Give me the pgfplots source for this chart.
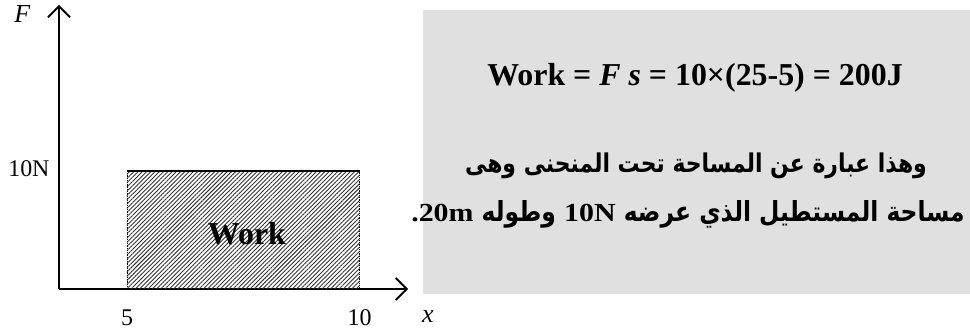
\documentclass[border=0pt]{standalone}
\usepackage{graphicx}
\usepackage{pgfplots}
\pgfplotsset{compat=1.18}
\usepackage{fontspec}
\setmainfont{Liberation Serif}
\newfontfamily\arabicfont[Script=Arabic]{DejaVu Sans}
\TeXXeTstate=1
\usetikzlibrary{arrows.meta,patterns.meta}
\definecolor{boxgray}{RGB}{224,224,224}
\newcommand\ar[1]{\scalebox{1}[1.18]{\beginR #1\endR}}
\newcommand\la[1]{\scalebox{1}[0.87]{\rmfamily\fontsize{30}{34}\selectfont #1}}
\begin{document}
\begin{tikzpicture}
\useasboundingbox (0bp,0bp) rectangle (970bp,331bp);
\fill[boxgray] (423bp,37bp) rectangle (970bp,321bp);
\begin{axis}[
 at={(59bp,42bp)}, anchor=south west,
 scale only axis, width=349bp, height=284bp,
 xmin=3.538, xmax=11.043, ymin=0, ymax=24.07,
 axis lines=left,
 axis line style={line width=1.8bp, -{Straight Barb[length=11bp,width=22bp]}},
 xtick={5,10}, ytick={10}, yticklabels={10N},
 major tick length=0pt,
 tick label style={font=\fontsize{24}{28}\selectfont},
 /pgf/number format/assume math mode=true,
 xticklabel style={yshift=-17bp},
 yticklabel style={xshift=-6bp, yshift=2bp},
 clip=false,
]
\addplot[draw=none, pattern={Lines[angle=45,distance=3bp,line width=0.9bp]}, pattern color=black!80]
  coordinates {(5,0) (5,10) (10,10) (10,0)} \closedcycle;
\addplot[densely dotted, line width=0.8bp] coordinates {(5,10) (5,0) (10,0) (10,10)};
\addplot[line width=1.8bp] coordinates {(5,10) (10,10)};
\node[font=\fontsize{32}{36}\selectfont\bfseries] at (axis cs:7.58,4.66) {Work};
\node[font=\fontsize{26}{30}\selectfont\itshape] at (axis cs:2.75,23.3) {F};
\node[font=\fontsize{26}{30}\selectfont\itshape] at (axis cs:11.47,-2.37) {x};
\end{axis}
\node[anchor=base, font=\fontsize{32}{36}\selectfont\bfseries] at (695bp,245bp)
  {Work = \textit{F s} = 10×(25-5) = 200J};
\node[anchor=base, font=\arabicfont\bfseries\fontsize{22}{26}\selectfont] at (696bp,158bp)
  {\ar{وهذا عبارة عن المساحة تحت المنحنى وهى}};
\node[anchor=base, font=\arabicfont\bfseries\fontsize{23.5}{28}\selectfont] at (688bp,109bp)
  {\la{.}\la{20m} \ar{وطوله} \la{10N} \ar{مساحة المستطيل الذي عرضه}};
\end{tikzpicture}
\end{document}
